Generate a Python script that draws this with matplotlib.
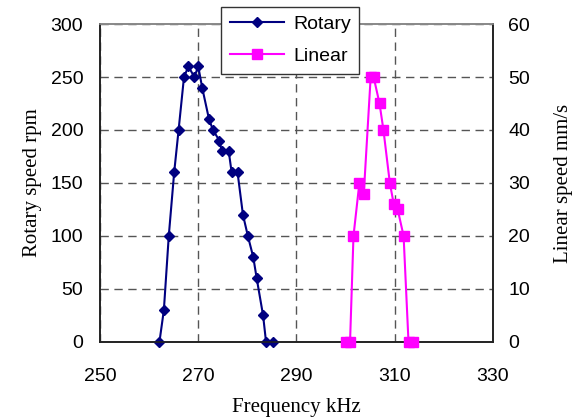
import matplotlib
matplotlib.use("Agg")
import matplotlib.pyplot as plt

# datos
rot_freq = [262.1, 263.0, 264.0, 265.1, 266.0, 267.1, 268.0, 269.2, 270.0, 270.8,
            272.2, 273.0, 274.3, 274.8, 276.2, 276.8, 278.0, 279.1, 280.1, 281.2,
            281.9, 283.2, 283.8, 285.2]
rot_speed = [0, 30, 100, 160, 200, 250, 260, 250, 260, 240,
             210, 200, 190, 180, 180, 160, 160, 120, 100, 80,
             60, 25, 0, 0]

lin_freq = [300.1, 300.9, 301.6, 302.8, 303.7, 305.1, 305.7, 306.9, 307.7, 309.0,
            309.8, 310.6, 311.8, 312.8, 313.8]
lin_speed = [0, 0, 20, 30, 28, 50, 50, 45, 40, 30,
             26, 25, 20, 0, 0]

x_ticks = [250, 270, 290, 310, 330]

tick_font = "Liberation Sans"
label_font = "Liberation Serif"

fig = plt.figure(figsize=(5.76, 4.17), dpi=100)
ax = fig.add_axes([0.1736, 0.18, 0.6823, 0.7624])
ax2 = ax.twinx()

l1, = ax.plot(rot_freq, rot_speed, color="#000080", marker="D", markersize=5.5,
              linewidth=1.5, label="Rotary", clip_on=False, zorder=3)
l2, = ax2.plot(lin_freq, lin_speed, color="#FF00FF", marker="s", markersize=6.5,
               linewidth=1.5, label="Linear", clip_on=False, zorder=3)

ax.set_xlim(250, 330)
ax.set_ylim(0, 300)
ax2.set_ylim(0, 60)
ax.set_xticks(x_ticks)
ax.set_yticks(range(0, 301, 50))
ax2.set_yticks(range(0, 61, 10))

# rejilla discontinua
ax.grid(True, color="#555555", linestyle=(0, (6, 4)), linewidth=1.0)

for a in (ax, ax2):
    a.tick_params(length=0, labelsize=14)
    for lab in a.get_xticklabels() + a.get_yticklabels():
        lab.set_family(tick_font)
    for s in a.spines.values():
        s.set_color("#222222")
        s.set_linewidth(1.2)
    a.spines["top"].set_color("#888888")
ax.tick_params(axis="x", pad=19)
ax.tick_params(axis="y", pad=12)
ax2.tick_params(axis="y", pad=11)

ax.set_xlabel("Frequency kHz", family=label_font, fontsize=15, labelpad=9)
ax.set_ylabel("Rotary speed rpm", family=label_font, fontsize=15, labelpad=6)
ax2.set_ylabel("Linear speed mm/s", family=label_font, fontsize=15, labelpad=17)

leg = ax2.legend(handles=[l1, l2], loc="upper left", bbox_to_anchor=(0.308, 1.055),
                 prop={"family": tick_font, "size": 14}, fancybox=False,
                 framealpha=1, edgecolor="#333333", handlelength=2.8,
                 borderpad=0.45, labelspacing=0.75, handletextpad=0.45,
                 borderaxespad=0)
leg.get_frame().set_linewidth(1.0)

fig.savefig("out.png", dpi=100)
